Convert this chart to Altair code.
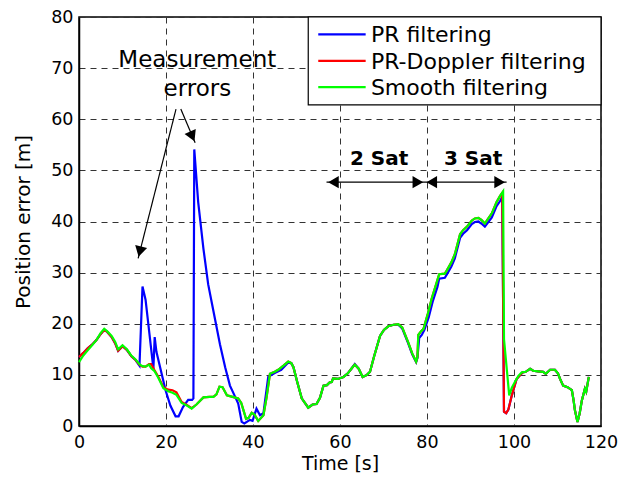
import altair as alt
import pandas as pd

# ---------------- data ----------------
series_names = ["PR filtering", "PR-Doppler filtering", "Smooth filtering"]
series_colors = ["#0000ff", "#ff0000", "#00ff00"]

smooth_t = [0, 1, 2, 3, 4, 5, 5.8, 6.5, 7.5, 8.3, 9.0, 10.0, 11.0, 12.0, 13.0, 14.0, 14.6, 15.3,
            16.1, 16.6, 17.3, 18.2, 19.4, 20.5, 21.5, 22.4, 23.6, 24.8, 25.9, 27.0, 28.6, 30.0,
            30.9, 31.6, 32.3, 33.0, 34.0, 35.3, 36.6, 37.3, 37.8, 38.4, 39.0, 39.7, 40.3, 41.2,
            42.4, 43.1, 43.9, 45.0, 45.8, 47.0, 48.1, 48.8, 49.3, 50.2, 51.2, 52.7, 53.7, 54.6,
            55.4, 56.2, 57.0, 57.6, 58.1, 58.4, 59.5, 60.8, 61.8, 62.7, 63.4, 64.3, 65.2, 66.2,
            66.9, 67.8, 69.2, 70.1, 71.1, 72.3, 73.4, 74.3, 75.7, 76.6, 77.5, 77.8, 78.0, 78.6,
            79.2, 80.2, 81.1, 82.2, 82.8, 84.1, 84.6, 85.6, 86.4, 87.6, 88.3, 89.2, 90.3, 91.0,
            91.8, 92.5, 93.3, 94.1, 94.9, 96.0, 96.8, 97.5, 97.7, 98.9, 99.5, 100.2, 101.0, 101.8,
            102.7, 103.7, 104.4, 105.5, 106.7, 107.3, 108.3, 109.4, 110.1, 110.6, 111.3, 112.3,
            113.3, 113.7, 114.0, 114.6, 115.1, 115.6, 116.3, 116.6, 117.2]
smooth_v = [12.5, 13.8, 14.8, 15.8, 16.8, 18.2, 19.0, 18.5, 17.6, 16.5, 15.0, 15.8, 15.0, 13.8,
            13.0, 12.0, 11.7, 11.6, 12.0, 11.3, 10.8, 9.5, 7.4, 6.8, 6.5, 6.1, 4.5, 4.0, 3.4, 4.2,
            5.6, 5.7, 5.7, 6.2, 7.7, 7.6, 6.0, 5.7, 5.4, 4.5, 3.1, 1.4, 1.6, 2.6, 2.3, 1.0, 2.1,
            5.5, 10.2, 10.6, 11.0, 11.8, 12.6, 12.3, 11.5, 8.5, 5.4, 3.6, 4.2, 4.3, 5.5, 7.9, 8.0,
            8.5, 8.6, 9.3, 9.2, 9.6, 10.3, 11.3, 12.0, 11.2, 9.6, 10.0, 10.6, 13.5, 17.6, 18.8,
            19.5, 19.8, 19.9, 19.3, 16.3, 14.2, 12.6, 13.5, 17.8, 18.5, 19.0, 22.0, 25.0, 28.0,
            29.7, 29.8, 30.5, 32.0, 33.6, 37.5, 38.3, 39.0, 40.2, 40.6, 40.7, 40.3, 39.6, 40.6,
            41.6, 43.8, 45.0, 45.9, 17.0, 6.0, 7.5, 8.6, 9.8, 10.5, 10.6, 11.2, 10.8, 10.7, 10.6,
            10.2, 11.0, 11.0, 10.3, 9.2, 7.9, 7.6, 7.0, 5.0, 3.1, 0.8, 2.5, 5.0, 7.3, 6.7, 9.6]

doppler_t = [0, 1, 2, 3, 4, 5, 5.8, 6.5, 7.5, 8.3, 9.0, 10.0, 11.0, 12.0, 13.0, 14.0, 14.6, 15.3,
             16.1, 16.6, 17.3, 18.2, 19.4, 20.5, 21.5, 22.4, 23.6, 24.8, 25.9, 27.0, 28.6, 30.0,
             30.9, 31.6, 32.3, 33.0, 34.0, 35.3, 36.6, 37.3, 37.8, 38.4, 39.0, 39.7, 40.3, 41.2,
             42.4, 43.1, 43.9, 45.0, 45.8, 47.0, 48.1, 48.8, 49.3, 50.2, 51.2, 52.7, 53.7, 54.6,
             55.4, 56.2, 57.0, 57.6, 58.1, 58.4, 59.5, 60.8, 61.8, 62.7, 63.4, 64.3, 65.2, 66.2,
             66.9, 67.8, 69.2, 70.1, 71.1, 72.3, 73.4, 74.3, 75.7, 76.6, 77.5, 77.8, 78.0, 78.6,
             79.2, 80.2, 81.1, 82.2, 82.8, 84.1, 84.6, 85.6, 86.4, 87.6, 88.3, 89.2, 90.3, 91.0,
             91.8, 92.5, 93.3, 94.1, 94.9, 96.0, 96.8, 97.3, 97.7, 98.2, 98.7, 99.5, 100.6, 102.0,
             102.7, 103.7, 104.4, 105.5, 106.7, 107.3, 108.3, 109.4, 110.1, 110.6, 111.3, 112.3,
             113.3, 113.7, 114.0, 114.6, 115.1, 115.6, 116.3, 116.6, 117.2]
doppler_v = [13.5, 14.3, 15.2, 15.9, 16.8, 18.0, 18.8, 18.4, 17.4, 16.2, 14.7, 15.6, 14.9, 13.7,
             12.9, 11.9, 11.6, 11.6, 12.1, 12.1, 11.0, 9.7, 7.6, 7.1, 7.0, 6.6, 4.7, 4.1, 3.5, 4.2,
             5.6, 5.7, 5.7, 6.2, 7.7, 7.6, 6.0, 5.7, 5.4, 4.5, 3.1, 1.4, 1.6, 2.6, 2.3, 1.0, 2.1,
             5.5, 10.2, 10.6, 11.0, 11.8, 12.6, 12.3, 11.5, 8.5, 5.4, 3.6, 4.2, 4.3, 5.5, 7.9, 8.0,
             8.5, 8.6, 9.3, 9.2, 9.6, 10.3, 11.3, 12.0, 11.2, 9.6, 10.0, 10.6, 13.5, 17.6, 18.8,
             19.5, 19.8, 19.9, 19.3, 16.3, 14.2, 12.6, 13.5, 17.8, 18.5, 19.0, 22.0, 25.0, 28.0,
             29.7, 29.8, 30.5, 32.0, 33.6, 37.5, 38.3, 39.0, 40.2, 40.6, 40.7, 40.3, 39.6, 40.6,
             41.6, 43.8, 45.0, 45.6, 2.8, 2.5, 3.2, 6.0, 9.2, 10.5, 10.6, 11.2, 10.8, 10.7, 10.6,
             10.2, 11.0, 11.0, 10.3, 9.2, 7.9, 7.6, 7.0, 5.0, 3.1, 0.8, 2.5, 5.0, 7.3, 6.7, 9.6]

pr_t = [0, 1, 2, 3, 4, 5, 5.8, 6.5, 7.5, 8.3, 9.0, 10.0, 11.0, 12.0, 13.0, 13.9, 14.6, 15.3, 17.1,
        17.4, 17.8, 19.9, 21.0, 22.2, 22.9, 23.9, 25.1, 26.0, 26.3, 26.5, 27.4, 28.6, 29.7, 30.9,
        32.4, 33.6, 34.7, 35.9, 36.6, 37.4, 38.0, 39.3, 39.9, 40.8, 41.6, 42.4, 43.5, 45.1, 46.5,
        48.1, 48.8, 49.3, 50.2, 51.2, 52.7, 53.7, 54.6, 55.4, 56.2, 57.0, 57.6, 58.1, 58.4, 59.5,
        60.8, 61.8, 62.7, 63.4, 64.3, 65.2, 66.2, 66.9, 67.8, 69.2, 70.1, 71.1, 72.3, 73.4, 74.3,
        75.7, 76.6, 77.5, 77.8, 78.2, 78.8, 79.4, 80.4, 81.3, 82.4, 82.8, 84.1, 84.6, 85.6, 86.4,
        87.6, 88.3, 89.2, 90.3, 91.0, 91.8, 92.5, 93.3, 94.1, 94.9, 96.0, 96.8, 97.3, 97.7, 98.2,
        98.7, 99.5, 100.6, 102.0, 102.7, 103.7, 104.4, 105.5, 106.7, 107.3, 108.3, 109.4, 110.1,
        110.6, 111.3, 112.3, 113.3, 113.7, 114.0, 114.6, 115.1, 115.6, 116.3, 116.6, 117.2]
pr_v = [13.5, 14.3, 15.2, 15.9, 16.8, 18.0, 18.8, 18.4, 17.4, 16.2, 14.7, 15.6, 14.9, 13.7, 12.9,
        11.8, 27.3, 24.7, 11.2, 17.4, 14.5, 7.0, 4.0, 1.9, 1.9, 3.7, 5.1, 5.1, 5.4, 54.1, 43.8, 34.7,
        27.7, 22.5, 16.0, 11.5, 7.9, 5.7, 4.4, 0.8, 0.5, 1.2, 1.0, 3.4, 2.1, 2.5, 9.6, 10.4, 11.0,
        12.4, 12.3, 11.5, 8.5, 5.4, 3.6, 4.2, 4.3, 5.5, 7.9, 8.0, 8.5, 8.6, 9.3, 9.2, 9.6, 10.3,
        11.3, 12.1, 11.2, 9.6, 10.0, 10.6, 13.5, 17.6, 18.8, 19.5, 19.8, 19.8, 19.1, 16.1, 14.0,
        12.5, 13.3, 17.2, 17.8, 18.8, 21.3, 24.3, 27.2, 28.8, 29.0, 29.7, 31.2, 32.8, 36.8, 37.6,
        38.3, 39.5, 39.9, 40.0, 39.6, 39.0, 39.9, 40.8, 43.0, 44.0, 44.8, 2.8, 2.5, 3.2, 6.0, 9.2,
        10.5, 10.6, 11.2, 10.8, 10.7, 10.6, 10.2, 11.0, 11.0, 10.3, 9.2, 7.9, 7.6, 7.0, 5.0, 3.1,
        0.8, 2.5, 5.0, 7.3, 6.7, 9.6]

x_ticks = [0, 20, 40, 60, 80, 100, 120]
y_ticks = [0, 10, 20, 30, 40, 50, 60, 70, 80]

# annotations (data coordinates)
note_t = [27.2, 27.2, 69.0, 90.6]
note_v = [70.3, 64.5, 51.0, 51.0]
note_text = ["Measurement", "errors", "2 Sat", "3 Sat"]
note_weight = ["normal", "normal", "bold", "bold"]

shaft_t = [22.3, 23.4, 56.9]
shaft_v = [62.0, 62.0, 47.7]
shaft_t2 = [13.6, 26.7, 98.3]
shaft_v2 = [32.8, 55.4, 47.7]

head_t = [13.99, 26.05, 58.5, 77.9, 81.1, 96.7]
head_v = [34.12, 56.64, 47.7, 47.7, 47.7, 47.7]
head_angle = [194, 156, 270, 90, 270, 90]

legend_box = [52.7, 120, 62.8, 80]
legend_row_v = [76.6, 71.4, 66.3]
legend_sym_t = [55.0, 65.9]
legend_label_t = 67.1

# ---------------- chart ----------------
FONT = "DejaVu Sans"
xscale = alt.Scale(domain=[0, 120], nice=False, zero=False)
yscale = alt.Scale(domain=[0, 80], nice=False, zero=False)
xaxis = alt.Axis(values=x_ticks, title="Time [s]", grid=True, ticks=False, tickSize=0,
                 labelPadding=7, titlePadding=4, labelFlush=False)
yaxis = alt.Axis(values=y_ticks, title="Position error [m]", grid=True, ticks=False,
                 tickSize=0, labelPadding=6, titlePadding=17, labelFlush=False)


def X(f):
    return alt.X(f, type="quantitative", scale=xscale, axis=xaxis)


def Y(f):
    return alt.Y(f, type="quantitative", scale=yscale, axis=yaxis)


def series_df(ts, vs):
    return pd.DataFrame({"t": ts, "v": vs, "i": list(range(len(ts)))})


layers = []
for ts, vs, col in [(pr_t, pr_v, series_colors[0]),
                    (doppler_t, doppler_v, series_colors[1]),
                    (smooth_t, smooth_v, series_colors[2])]:
    layers.append(
        alt.Chart(series_df(ts, vs)).mark_line(color=col, strokeWidth=2.2).encode(
            x=X("t"), y=Y("v"), order="i:Q")
    )

# arrows
shafts = pd.DataFrame({"t": shaft_t, "v": shaft_v, "t2": shaft_t2, "v2": shaft_v2})
layers.append(alt.Chart(shafts).mark_rule(color="black", strokeWidth=1.2).encode(
    x=X("t"), y=Y("v"), x2="t2", y2="v2"))
heads = pd.DataFrame({"t": head_t, "v": head_v, "a": head_angle})
layers.append(alt.Chart(heads).mark_point(shape="triangle-up", filled=True, color="black",
                                          size=150, opacity=1).encode(
    x=X("t"), y=Y("v"), angle=alt.Angle("a:Q", scale=None)))

# notes
notes = pd.DataFrame({"t": note_t, "v": note_v, "text": note_text, "w": note_weight})
layers.append(alt.Chart(notes[notes.w == "normal"]).mark_text(
    font=FONT, fontSize=23, color="black", baseline="alphabetic", align="center").encode(
    x=X("t"), y=Y("v"), text="text:N"))
layers.append(alt.Chart(notes[notes.w == "bold"]).mark_text(
    font=FONT, fontSize=20, fontWeight="bold", color="black", baseline="alphabetic",
    align="center").encode(x=X("t"), y=Y("v"), text="text:N"))

# legend (drawn inside the plot, top right)
box = pd.DataFrame({"t": [legend_box[0]], "t2": [legend_box[1]],
                    "v": [legend_box[2]], "v2": [legend_box[3]]})
layers.append(alt.Chart(box).mark_rect(fill="white", stroke="black", strokeWidth=1.2).encode(
    x=X("t"), x2="t2", y=Y("v"), y2="v2"))
leg = pd.DataFrame({"name": series_names, "color": series_colors, "v": legend_row_v,
                    "t": [legend_sym_t[0]] * 3, "t2": [legend_sym_t[1]] * 3,
                    "tl": [legend_label_t] * 3})
layers.append(alt.Chart(leg).mark_rule(strokeWidth=2.2).encode(
    x=X("t"), x2="t2", y=Y("v"), color=alt.Color("color:N", scale=None)))
layers.append(alt.Chart(leg).mark_text(font=FONT, fontSize=22, color="black", align="left",
                                       baseline="middle", dy=1).encode(
    x=X("tl"), y=Y("v"), text="name:N"))

chart = alt.layer(*layers).properties(
    width=522, height=409,
    autosize=alt.AutoSizeParams(type="none"),
    padding={"left": 71, "top": 9, "right": 25, "bottom": 50},
).configure_view(stroke="black", strokeWidth=1.5).configure_axis(
    labelFont=FONT, labelFontSize=17.5, labelColor="black",
    titleFont=FONT, titleFontSize=19, titleFontWeight="normal", titleColor="black",
    domainColor="black", domainWidth=1.5,
    gridColor="#333333", gridDash=[6, 5], gridWidth=1, gridOpacity=1,
).configure_axisY(titleFontSize=20)

chart.save("out.html", embed_options={"renderer": "svg", "actions": False})
